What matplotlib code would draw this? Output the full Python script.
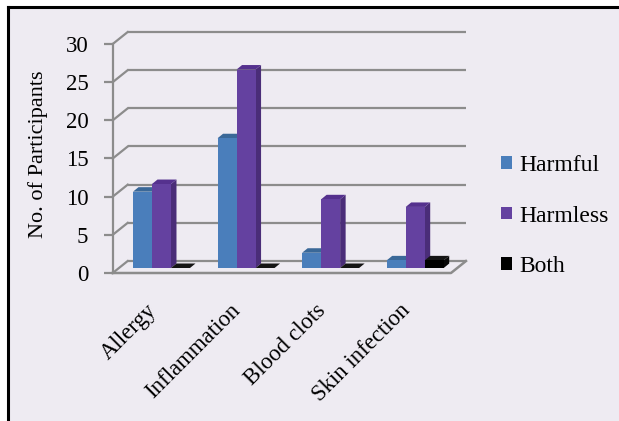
import matplotlib
matplotlib.use("Agg")
import matplotlib.pyplot as plt
from matplotlib.patches import Polygon, Rectangle, Patch
from matplotlib.lines import Line2D
import numpy as np

categories = ["Allergy", "Inflammation", "Blood clots", "Skin infection"]
harmful = [10, 17, 2, 1]
harmless = [11, 26, 9, 8]
both = [0, 0, 0, 1]
series_names = ["Harmful", "Harmless", "Both"]
y_ticks = [0, 5, 10, 15, 20, 25, 30]

plt.rcParams["font.family"] = ["Liberation Serif", "DejaVu Serif"]
plt.rcParams["font.serif"] = ["Liberation Serif", "DejaVu Serif"]

W, H = 619, 421
fig = plt.figure(figsize=(W / 100, H / 100), dpi=100, facecolor="white")

BG = "#EEEBF2"
GRID = "#8C8C8C"
FONT = ["Liberation Serif", "DejaVu Serif"]
# background panel with black top/left border
fig.patches.append(Rectangle((8 / W, 0), 1, (H - 7) / H, transform=fig.transFigure,
                             facecolor=BG, edgecolor="none", zorder=-5))
fig.add_artist(Line2D([8 / W, 1], [(H - 7) / H, (H - 7) / H], transform=fig.transFigure,
                      color="black", lw=2.2, zorder=-4))
fig.add_artist(Line2D([8 / W, 8 / W], [0, (H - 7) / H], transform=fig.transFigure,
                      color="black", lw=2.2, zorder=-4))

# axes = front plane
x0p, x1p, y0p, y1p = 112.7, 451.0, 273.0, 44.0
ax = fig.add_axes([x0p / W, (H - y0p) / H, (x1p - x0p) / W, (y0p - y1p) / H])
ax.set_facecolor("none")
ax.set_xlim(-0.5, 3.5)
ax.set_ylim(0, 30)
pxu = (x1p - x0p) / 4.0
pyu = (y0p - y1p) / 30.0

def px(dx):
    return dx / pxu

def py(dy):
    return dy / pyu

# floor / wall depth
fdx, fdy = px(15), py(12)

# back wall gridlines and side wall diagonals
for t in y_ticks:
    ax.plot([-0.5 + fdx, 3.5 + fdx], [t + fdy, t + fdy], color=GRID, lw=1.6,
            clip_on=False, zorder=1, solid_capstyle="butt")
    ax.plot([-0.5, -0.5 + fdx], [t, t + fdy], color=GRID, lw=1.6, clip_on=False, zorder=1)
# floor front and right edges
ax.plot([-0.5, 3.5, 3.5 + fdx], [0, 0, fdy], color=GRID, lw=1.8, clip_on=False, zorder=1)

# bars
bw = px(19)
sx, sy = px(6.5), py(5)
ddx, ddy = px(5.5), py(4.5)
xs = np.arange(len(categories))
series = [harmful, harmless, both]
front_cols = ["#4A7EBB", "#6441A0", "#000000"]
top_cols = ["#3A6898", "#55318E", "#151515"]
side_cols = ["#36608F", "#4A2D78", "#080808"]

z = 3
for i in range(len(categories)):
    for j, vals in enumerate(series):
        v = vals[i]
        xl = xs[i] + sx + (j - 1.5) * bw
        xr = xl + bw
        b = sy
        t = v + sy
        # side face
        ax.add_patch(Polygon([(xr, b), (xr, t), (xr + ddx, t + ddy), (xr + ddx, b + ddy)],
                             closed=True, facecolor=side_cols[j], edgecolor="none",
                             clip_on=False, zorder=z))
        # top face
        ax.add_patch(Polygon([(xl, t), (xr, t), (xr + ddx, t + ddy), (xl + ddx, t + ddy)],
                             closed=True, facecolor=top_cols[j], edgecolor="none",
                             clip_on=False, zorder=z))
        z += 1
        # front face
        ax.bar(xl, v, width=bw, bottom=b, align="edge", color=front_cols[j],
               edgecolor="none", clip_on=False, zorder=z)
        z += 1

# axes styling
for s in ["top", "right", "bottom"]:
    ax.spines[s].set_visible(False)
ax.spines["left"].set_color(GRID)
ax.spines["left"].set_linewidth(1.6)
ax.set_yticks(y_ticks)
ax.set_yticklabels([str(t) for t in y_ticks], fontsize=16.5, family=FONT)
ax.tick_params(axis="y", length=6.5, width=1.6, color=GRID, pad=11)
ax.set_xticks(xs + px(5.5))
ax.set_xticklabels(categories, rotation=45, ha="right", fontsize=16.5, family=FONT)
ax.tick_params(axis="x", length=0, pad=19.5)

fig.text(38.5 / W, 1 - 154 / H, "No. of Participants", rotation=90, ha="center",
         va="center", fontsize=16, family=FONT)

handles = [Patch(facecolor=c, edgecolor="none") for c in front_cols]
fig.legend(handles, series_names, loc="center left",
           bbox_to_anchor=(480 / W, 1 - 216 / H), frameon=False,
           prop={"family": FONT, "size": 17},
           handlelength=0.45, handleheight=0.45, handletextpad=0.3, labelspacing=1.25)

fig.savefig("out.png", dpi=100, facecolor="white")
